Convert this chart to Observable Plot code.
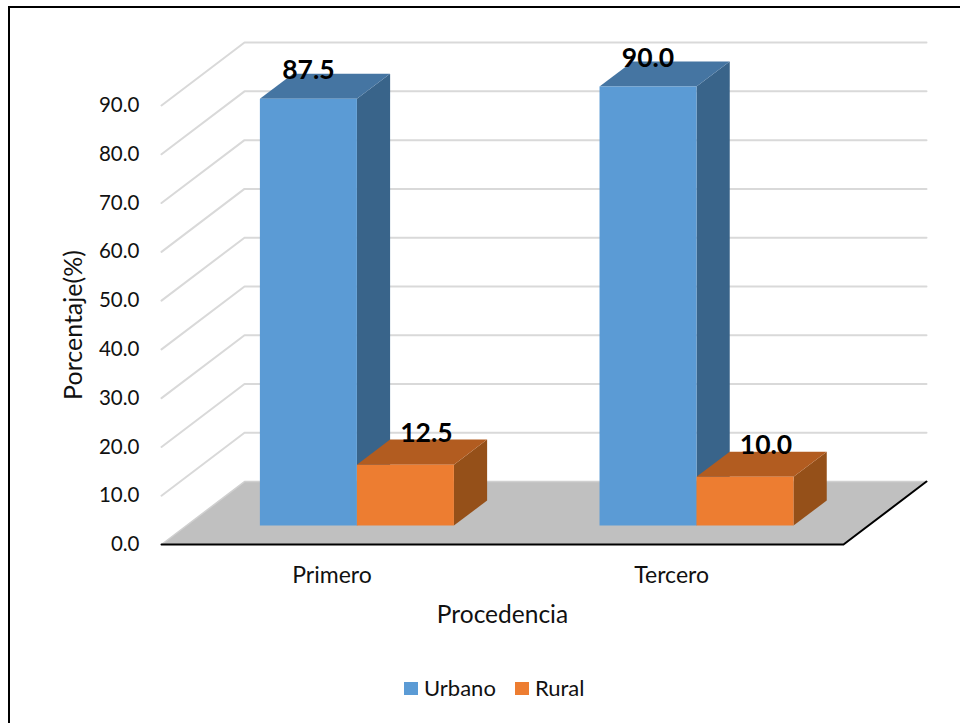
<!DOCTYPE html>
<html>
<head>
<meta charset="utf-8">
<script src="https://cdn.jsdelivr.net/npm/d3@7"></script>
<script src="https://cdn.jsdelivr.net/npm/@observablehq/plot@0.6"></script>
<style>
  html, body { margin: 0; padding: 0; background: #fff; }
  body { width: 960px; height: 723px; position: relative; overflow: hidden; font-family: Lato, sans-serif; }
  #frame { position: absolute; left: 8px; top: 6px; right: -4px; bottom: -4px; border: 2px solid #000; box-sizing: border-box; }
  #chart { position: absolute; left: 0; top: 0; }
  #chart svg { display: block; }
  #legend { position: absolute; left: 404px; top: 675px; display: flex; align-items: center; font-size: 22px; color: #111; line-height: 26px; }
  #legend i { display: inline-block; width: 14px; height: 13px; margin-right: 6px; }
  #legend span { margin-right: 19px; }
</style>
</head>
<body>
<div id="frame"></div>
<div id="chart"></div>
<div id="legend"></div>
<script>
const categories = ["Primero", "Tercero"];
const seriesNames = ["Urbano", "Rural"];
const urbano = [87.5, 90.0];
const rural = [12.5, 10.0];
const yTicks = [0, 10, 20, 30, 40, 50, 60, 70, 80, 90];
const gridValues = [10, 20, 30, 40, 50, 60, 70, 80, 90];
const frontColors = ["#5B9BD5", "#ED7D31"];
const topColors = ["#4575A2", "#B25C20"];
const sideColors = ["#39648A", "#955019"];

// Oblique projection: z runs 0 (front) to 1 (back) across the chart's floor.
const xDepth = 0.2434, yDepth = 12.9;
const zFront = 0.30, zBack = 0.70, barWidth = 0.2845, catStep = 0.996;
const catCenter = ci => 0.5 + ci * catStep;
const px = (x, z) => x + z * xDepth;
const py = (y, z) => y + z * yDepth;
const pt = (id, x, y, z) => ({id, x: px(x, z), y: py(y, z)});

const floorPts = [pt("f", 0, 0, 0), pt("f", 2, 0, 0), pt("f", 2, 0, 1), pt("f", 0, 0, 1)];
const gridPts = gridValues.flatMap(v => [pt(v, 0, v, 0), pt(v, 0, v, 1), pt(v, 2, v, 1)]);
const axisEdge = [pt("e", 0, 0, 0), pt("e", 2, 0, 0), pt("e", 2, 0, 1)];
const leftEdge = [pt("l", 0, 0, 0), pt("l", 0, 0, 1), pt("l", 2, 0, 1)];

const seriesValues = [urbano, rural];
const faces = {front: [], top: [], side: []};
const labels = [];
categories.forEach((c, ci) => {
  seriesValues.forEach((vals, si) => {
    const v = vals[ci];
    const x0 = catCenter(ci) + (si - 1) * barWidth, x1 = x0 + barWidth;
    const id = c + seriesNames[si];
    faces.side.push({si, ci, pts: [pt(id, x1, 0, zFront), pt(id, x1, 0, zBack), pt(id, x1, v, zBack), pt(id, x1, v, zFront)]});
    faces.top.push({si, ci, pts: [pt(id, x0, v, zFront), pt(id, x1, v, zFront), pt(id, x1, v, zBack), pt(id, x0, v, zBack)]});
    faces.front.push({si, ci, pts: [pt(id, x0, 0, zFront), pt(id, x1, 0, zFront), pt(id, x1, v, zFront), pt(id, x0, v, zFront)]});
    labels.push({si, value: v, x: px((x0 + x1) / 2, zFront), y: py(v, zFront)});
  });
});

const barMarks = [];
categories.forEach((c, ci) => {
  seriesNames.forEach((s, si) => {
    const get = k => faces[k].find(f => f.ci === ci && f.si === si).pts;
    barMarks.push(
      Plot.line(get("side"), {x: "x", y: "y", fill: sideColors[si], stroke: "none", curve: "linear"}),
      Plot.line(get("top"), {x: "x", y: "y", fill: topColors[si], stroke: "none", curve: "linear"}),
      Plot.line(get("front"), {x: "x", y: "y", fill: frontColors[si], stroke: "none", curve: "linear"})
    );
  });
});

const font = "Lato, sans-serif";
const plot = Plot.plot({
  width: 960,
  height: 660,
  marginLeft: 161,
  marginRight: 117,
  marginTop: 105,
  marginBottom: 116,
  style: {fontFamily: font, background: "transparent", color: "#111", overflow: "visible"},
  x: {domain: [0, 2]},
  y: {domain: [0, 90]},
  marks: [
    Plot.line(floorPts, {x: "x", y: "y", fill: "#C0C0C0", stroke: "none", curve: "linear"}),
    Plot.line(leftEdge, {x: "x", y: "y", stroke: "#D0D0D0", strokeWidth: 1.5, curve: "linear"}),
    Plot.line(gridPts, {x: "x", y: "y", z: "id", stroke: "#D9D9D9", strokeWidth: 2, curve: "linear"}),
    Plot.line(axisEdge, {x: "x", y: "y", stroke: "#000", strokeWidth: 2, curve: "linear"}),
    ...barMarks,
    Plot.axisY({
      ticks: yTicks, tickSize: 0, tickPadding: 22, fontSize: 20.5,
      tickFormat: d3.format(".1f"), label: null
    }),
    Plot.axisX({
      ticks: categories.map((c, i) => catCenter(i)), tickSize: 0, tickPadding: 22, fontSize: 23,
      tickFormat: d => categories[Math.floor(d)], label: null
    }),
    Plot.text(["Porcentaje(%)"], {text: d => d, frameAnchor: "left", textAnchor: "middle", lineAnchor: "middle", rotate: -90, dx: -88, fontSize: 25, fill: "#111"}),
    Plot.text(["Procedencia"], {text: d => d, frameAnchor: "bottom", textAnchor: "middle", lineAnchor: "middle", dy: 71, fontSize: 24.5, fill: "#111"}),
    Plot.text(labels.filter(d => d.si === 0), {x: "x", y: "y", text: d => d.value.toFixed(1), dx: 0, dy: -28, fontSize: 26.5, fontWeight: 700, fill: "#000"}),
    Plot.text(labels.filter(d => d.si === 1), {x: "x", y: "y", text: d => d.value.toFixed(1), dx: 21, dy: -31, fontSize: 26.5, fontWeight: 700, fill: "#000"})
  ]
});
document.getElementById("chart").appendChild(plot);

const legend = document.getElementById("legend");
seriesNames.forEach((s, i) => {
  const sw = document.createElement("i");
  sw.style.background = frontColors[i];
  const t = document.createElement("span");
  t.textContent = s;
  legend.append(sw, t);
});
</script>
</body>
</html>
